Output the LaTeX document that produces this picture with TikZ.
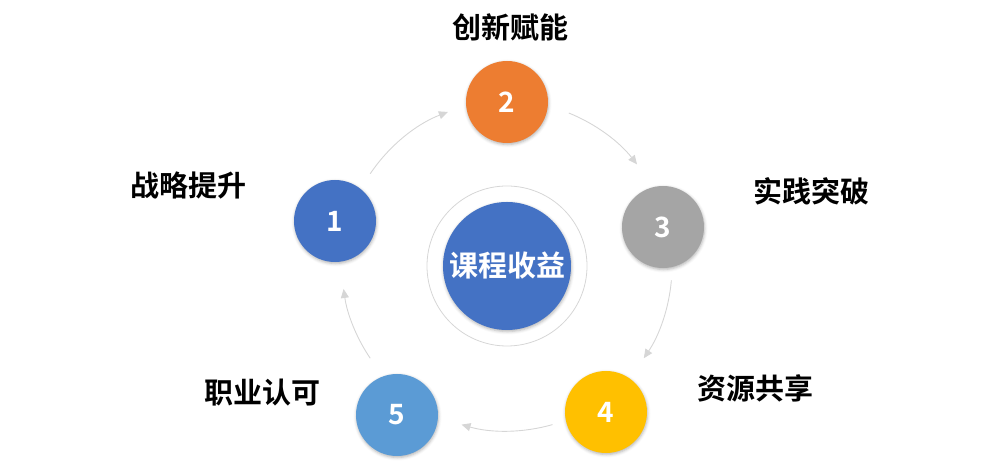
\documentclass[tikz,border=0pt]{standalone}
\usepackage{fontspec}
\newfontfamily\cjk{Noto Sans CJK SC}[BoldFont={Noto Sans CJK SC Bold}]
\usetikzlibrary{arrows.meta,shadows.blur}
\definecolor{cblue}{HTML}{4472C4}
\definecolor{corange}{HTML}{ED7D31}
\definecolor{cgray}{HTML}{A5A5A5}
\definecolor{cgold}{HTML}{FFC000}
\definecolor{clight}{HTML}{5B9BD5}
\definecolor{cline}{HTML}{D6D6D6}
\tikzset{
  x=1pt,y=1pt,
  numball/.style={circle,minimum size=82pt,inner sep=0pt,text=white,
    font=\cjk\bfseries\fontsize{28}{28}\selectfont,
    blur shadow={shadow xshift=0.5pt,shadow yshift=-1.5pt,shadow blur radius=3pt,shadow opacity=30}},
  lbl/.style={font=\cjk\bfseries\fontsize{29}{29}\selectfont,text=black},
  flow/.style={draw=cline,line width=0.9pt,-{Triangle[length=9pt,width=8pt]}},
}
\begin{document}
\begin{tikzpicture}
\useasboundingbox (0,0) rectangle (999,473);
\coordinate (C) at (507,207);
% ring and centre
\node[circle,draw=cline,line width=0.8pt,minimum size=160pt,inner sep=0pt] (ring) at (C) {};
\node[circle,fill=cblue,minimum size=128pt,inner sep=0pt,text=white,
  font=\cjk\bfseries\fontsize{29}{29}\selectfont,
  blur shadow={shadow xshift=0.5pt,shadow yshift=-1.5pt,shadow blur radius=3pt,shadow opacity=30}] (core) at (C) {课程收益};
% number balls
\node[numball,fill=cblue]   (n1) at (335,252) {1};
\node[numball,fill=corange] (n2) at (507,371) {2};
\node[numball,fill=cgray]   (n3) at (663,246) {3};
\node[numball,fill=cgold]   (n4) at (606,61)  {4};
\node[numball,fill=clight]  (n5) at (397,58)  {5};
% labels
\node[lbl] (l2) at (510,446) {创新赋能};
\node[lbl] (l1) at (188,288) {战略提升};
\node[lbl] (l3) at (811,282) {实践突破};
\node[lbl] (l4) at (755,85)  {资源共享};
\node[lbl] (l5) at (262,80)  {职业认可};
% arrows
\draw[flow] ([shift={(146:165)}]C) arc[start angle=146,end angle=111,radius=165];
\draw[flow] ([shift={(68:165)}]C) arc[start angle=68,end angle=38,radius=165];
\draw[flow] ([shift={(-5:165)}]C) arc[start angle=-5,end angle=-34,radius=165];
\draw[flow] ([shift={(-74:165)}]C) arc[start angle=-74,end angle=-106,radius=165];
\draw[flow] ([shift={(214:165)}]C) arc[start angle=214,end angle=188,radius=165];
\end{tikzpicture}
\end{document}
